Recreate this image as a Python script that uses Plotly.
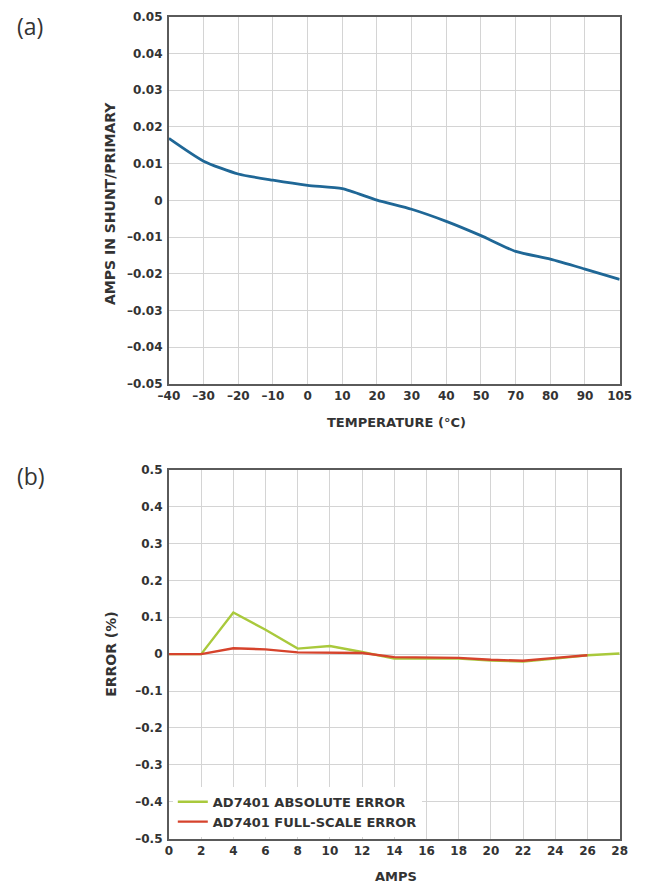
import plotly.graph_objects as go

# ---- data: panel (a)
temp_labels = ["-40", "-30", "-20", "-10", "0", "10", "20", "30", "40", "50", "70", "80", "90", "105"]
temp_ticktext = ["–40", "–30", "–20", "–10", "0", "10", "20", "30", "40", "50", "70", "80", "90", "105"]
amps_shunt = [0.0169, 0.0107, 0.0072, 0.0055, 0.0041, 0.0032, 0.0001, -0.0024, -0.0057, -0.0096,
              -0.0139, -0.0160, -0.0187, -0.0215]
ya_vals = [0.05, 0.04, 0.03, 0.02, 0.01, 0, -0.01, -0.02, -0.03, -0.04, -0.05]
ya_text = ["0.05", "0.04", "0.03", "0.02", "0.01", "0", "–0.01", "–0.02", "–0.03", "–0.04", "–0.05"]

# ---- data: panel (b)
amps = [0, 2, 4, 6, 8, 10, 12, 14, 16, 18, 20, 22, 24, 26, 28]
abs_error = [0.0, 0.0, 0.113, 0.066, 0.015, 0.022, 0.006, -0.012, -0.012, -0.012, -0.017, -0.020, -0.012, -0.003, 0.002]
amps_fs = [0, 2, 4, 6, 8, 10, 12, 14, 16, 18, 20, 22, 24, 26]
fs_error = [0.0, 0.0, 0.016, 0.013, 0.005, 0.005, 0.003, -0.008, -0.009, -0.010, -0.015, -0.018, -0.010, -0.003]
yb_vals = [0.5, 0.4, 0.3, 0.2, 0.1, 0, -0.1, -0.2, -0.3, -0.4, -0.5]
yb_text = ["0.5", "0.4", "0.3", "0.2", "0.1", "0", "–0.1", "–0.2", "–0.3", "–0.4", "–0.5"]

W, H = 650, 891
def px_x(v):
    return v / W
def px_y(v):
    return 1 - v / H

TXT = "#333333"
GRID = "#d4d4d4"
FRAME = "#5a5a5a"
FONT = "DejaVu Sans, sans-serif"
tickfont = dict(family=FONT, size=12, color=TXT, weight="bold")

fig = go.Figure()
fig.add_trace(go.Scatter(x=temp_labels, y=amps_shunt, mode="lines",
                         line=dict(color="#1f6796", width=2.8, shape="spline", smoothing=0.6),
                         xaxis="x", yaxis="y", showlegend=False))
fig.add_trace(go.Scatter(x=amps, y=abs_error, mode="lines", name="AD7401 ABSOLUTE ERROR",
                         line=dict(color="#a9c93c", width=2.4),
                         xaxis="x2", yaxis="y2"))
fig.add_trace(go.Scatter(x=amps_fs, y=fs_error, mode="lines", name="AD7401 FULL-SCALE ERROR",
                         line=dict(color="#d6432c", width=2.4),
                         xaxis="x2", yaxis="y2"))

xdom = [px_x(164), px_x(632)]
axis_common = dict(showgrid=True, gridcolor=GRID, gridwidth=1, showline=True, mirror=True,
                   linecolor=FRAME, linewidth=2, zeroline=False, ticks="", tickfont=tickfont)

fig.update_layout(
    width=W, height=H,
    margin=dict(l=0, r=0, t=0, b=0),
    paper_bgcolor="white", plot_bgcolor="white",
    xaxis=dict(domain=xdom, anchor="y", type="category", categoryorder="array",
               categoryarray=temp_labels, range=[0, len(temp_labels) - 1],
               tickvals=temp_labels, ticktext=temp_ticktext, **axis_common),
    yaxis=dict(domain=[px_y(383), px_y(10)], anchor="x", range=[-0.05, 0.05],
               tickvals=ya_vals, ticktext=ya_text, ticklabelstandoff=2, **axis_common),
    xaxis2=dict(domain=xdom, anchor="y2", range=[0, 28], tickvals=amps,
                ticktext=[str(a) for a in amps], **axis_common),
    yaxis2=dict(domain=[px_y(845), px_y(470)], anchor="x2", range=[-0.5, 0.5],
                tickvals=yb_vals, ticktext=yb_text, ticklabelstandoff=2, **axis_common),
    legend=dict(x=px_x(168), y=px_y(843), xanchor="left", yanchor="bottom",
                bgcolor="white", borderwidth=0,
                font=dict(family=FONT, size=13, color=TXT, weight="bold"),
                tracegroupgap=0, itemwidth=30),
    showlegend=True,
)

titlefont = dict(family=FONT, size=13, color=TXT, weight="bold")
annos = [
    dict(text="(a)", x=px_x(4), y=px_y(19), xanchor="left", yanchor="middle",
         font=dict(family="Open Sans, sans-serif", size=23, color=TXT), showarrow=False),
    dict(text="(b)", x=px_x(4), y=px_y(476), xanchor="left", yanchor="middle",
         font=dict(family="Open Sans, sans-serif", size=23, color=TXT), showarrow=False),
    dict(text="AMPS IN SHUNT/PRIMARY", x=px_x(103), y=px_y(200), textangle=-90,
         xanchor="center", yanchor="middle", font=dict(family=FONT, size=14, color=TXT, weight="bold"),
         showarrow=False),
    dict(text="TEMPERATURE (°C)", x=px_x(400), y=px_y(422),
         xanchor="center", yanchor="middle", font=titlefont, showarrow=False),
    dict(text="ERROR (%)", x=px_x(103), y=px_y(657), textangle=-90,
         xanchor="center", yanchor="middle", font=dict(family=FONT, size=14, color=TXT, weight="bold"),
         showarrow=False),
    dict(text="AMPS", x=px_x(400), y=px_y(883),
         xanchor="center", yanchor="middle", font=titlefont, showarrow=False),
]
for a in annos:
    a.update(xref="paper", yref="paper")
fig.update_layout(annotations=annos)

fig.write_html("out.html")
